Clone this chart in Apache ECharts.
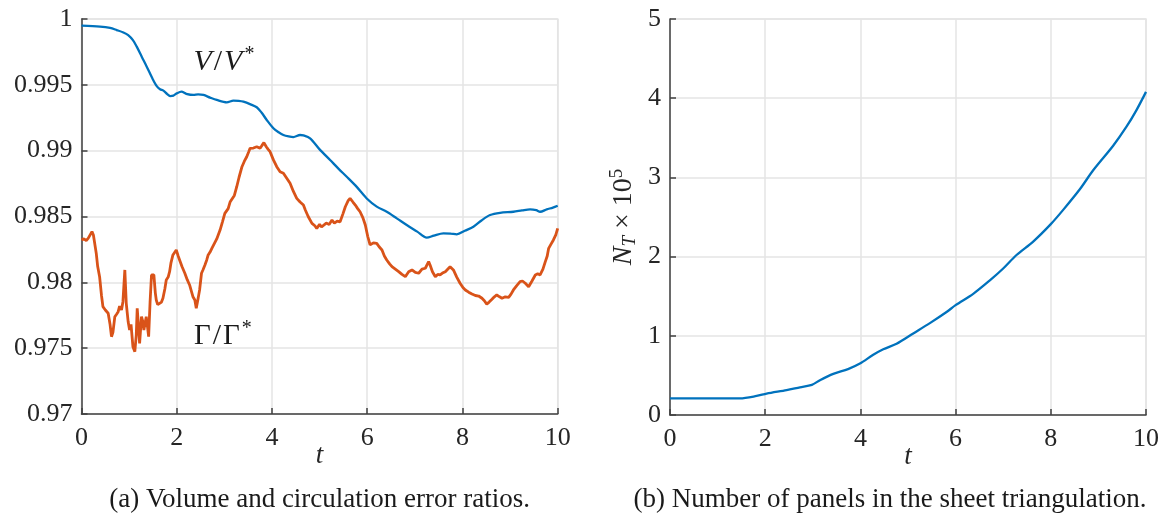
<!DOCTYPE html>
<html>
<head>
<meta charset="utf-8">
<script src="https://cdn.jsdelivr.net/npm/echarts@6/dist/echarts.min.js"></script>
<style>
  html, body { margin: 0; padding: 0; background: #ffffff; }
  #chart { width: 1173px; height: 525px; }
</style>
</head>
<body>
<div id="chart"></div>
<script>
// Volume ratio V/V* over time
const tVolume = [0, 0.39, 0.6, 0.74, 0.88, 0.98, 1.08, 1.16, 1.27, 1.37, 1.48, 1.58, 1.65, 1.72, 1.80, 1.86, 1.93, 2.00, 2.10, 2.20, 2.35, 2.45, 2.56, 2.70, 2.84, 3.05, 3.19, 3.30, 3.40, 3.55, 3.68, 3.78, 3.89, 4.03, 4.14, 4.24, 4.35, 4.45, 4.59, 4.66, 4.80, 5.00, 5.22, 5.40, 5.57, 5.78, 5.99, 6.20, 6.41, 6.62, 6.83, 7.05, 7.25, 7.40, 7.60, 7.75, 7.88, 8.05, 8.23, 8.40, 8.58, 8.79, 9.07, 9.25, 9.42, 9.55, 9.63, 9.77, 9.90, 10];
const volumeRatio = [0.99949, 0.99942, 0.99932, 0.99916, 0.99898, 0.99878, 0.99840, 0.99790, 0.99710, 0.99638, 0.99555, 0.99490, 0.99466, 0.99456, 0.99430, 0.99415, 0.99418, 0.99435, 0.99448, 0.99432, 0.99423, 0.99428, 0.99423, 0.99403, 0.99385, 0.99367, 0.99380, 0.99378, 0.99372, 0.99352, 0.99330, 0.99290, 0.99233, 0.99170, 0.99140, 0.99119, 0.99108, 0.99103, 0.99119, 0.99116, 0.99094, 0.99010, 0.98929, 0.98862, 0.98802, 0.98725, 0.98637, 0.98575, 0.98536, 0.98486, 0.98435, 0.98385, 0.98339, 0.98355, 0.98372, 0.98370, 0.98364, 0.98392, 0.98422, 0.98470, 0.98511, 0.98528, 0.98536, 0.98546, 0.98554, 0.98548, 0.98536, 0.98554, 0.98568, 0.98582];

// Circulation ratio Γ/Γ* over time
const tCirc = [0.00, 0.05, 0.10, 0.14, 0.18, 0.22, 0.25, 0.29, 0.31, 0.34, 0.38, 0.42, 0.45, 0.50, 0.56, 0.60, 0.63, 0.66, 0.70, 0.74, 0.77, 0.80, 0.84, 0.87, 0.91, 0.94, 0.98, 1.01, 1.04, 1.08, 1.12, 1.15, 1.17, 1.20, 1.22, 1.26, 1.29, 1.31, 1.34, 1.36, 1.39, 1.41, 1.44, 1.47, 1.52, 1.55, 1.57, 1.60, 1.64, 1.68, 1.71, 1.75, 1.78, 1.82, 1.85, 1.88, 1.92, 1.96, 1.99, 2.03, 2.06, 2.11, 2.17, 2.22, 2.27, 2.31, 2.34, 2.38, 2.41, 2.45, 2.48, 2.52, 2.55, 2.59, 2.63, 2.66, 2.70, 2.74, 2.77, 2.84, 2.91, 2.96, 3.01, 3.08, 3.12, 3.16, 3.21, 3.26, 3.31, 3.37, 3.42, 3.47, 3.51, 3.54, 3.58, 3.61, 3.65, 3.68, 3.72, 3.75, 3.79, 3.83, 3.88, 3.92, 3.96, 4.03, 4.10, 4.17, 4.24, 4.31, 4.38, 4.45, 4.52, 4.59, 4.66, 4.70, 4.76, 4.80, 4.84, 4.90, 4.94, 5.00, 5.04, 5.08, 5.14, 5.20, 5.26, 5.31, 5.37, 5.43, 5.49, 5.54, 5.60, 5.64, 5.70, 5.75, 5.80, 5.85, 5.91, 5.96, 6.01, 6.06, 6.13, 6.20, 6.25, 6.31, 6.36, 6.41, 6.47, 6.52, 6.59, 6.66, 6.73, 6.80, 6.87, 6.94, 7.01, 7.08, 7.15, 7.22, 7.29, 7.32, 7.37, 7.43, 7.48, 7.53, 7.58, 7.64, 7.69, 7.74, 7.81, 7.88, 7.95, 8.01, 8.06, 8.13, 8.20, 8.27, 8.34, 8.41, 8.46, 8.51, 8.56, 8.62, 8.67, 8.72, 8.78, 8.83, 8.90, 8.97, 9.02, 9.07, 9.14, 9.21, 9.26, 9.32, 9.39, 9.46, 9.53, 9.58, 9.63, 9.69, 9.74, 9.78, 9.81, 9.86, 9.91, 9.96, 10.00];
const circRatio = [0.98322, 0.98330, 0.98318, 0.98334, 0.98340, 0.98385, 0.98360, 0.98367, 0.98220, 0.98120, 0.98043, 0.97900, 0.97815, 0.97790, 0.97765, 0.97680, 0.97587, 0.97620, 0.97739, 0.97760, 0.97777, 0.97820, 0.97790, 0.97853, 0.98094, 0.97841, 0.97700, 0.97638, 0.97680, 0.97511, 0.97473, 0.97600, 0.97803, 0.97650, 0.97537, 0.97739, 0.97700, 0.97638, 0.97700, 0.97739, 0.97650, 0.97587, 0.97850, 0.98056, 0.98056, 0.97920, 0.97866, 0.97830, 0.97815, 0.97850, 0.97879, 0.97950, 0.98018, 0.98040, 0.98081, 0.98150, 0.98208, 0.98220, 0.98246, 0.98200, 0.98170, 0.98120, 0.98069, 0.98020, 0.97980, 0.97930, 0.97891, 0.97866, 0.97803, 0.97880, 0.97942, 0.98069, 0.98094, 0.98130, 0.98170, 0.98208, 0.98230, 0.98260, 0.98271, 0.98330, 0.98397, 0.98460, 0.98524, 0.98560, 0.98610, 0.98600, 0.98660, 0.98726, 0.98800, 0.98878, 0.98920, 0.98954, 0.98990, 0.99018, 0.99030, 0.99020, 0.99035, 0.99030, 0.99040, 0.99018, 0.99040, 0.99061, 0.99030, 0.99010, 0.98992, 0.98930, 0.98878, 0.98840, 0.98828, 0.98790, 0.98752, 0.98690, 0.98638, 0.98610, 0.98587, 0.98549, 0.98500, 0.98486, 0.98448, 0.98430, 0.98410, 0.98440, 0.98420, 0.98435, 0.98450, 0.98440, 0.98473, 0.98450, 0.98465, 0.98460, 0.98520, 0.98574, 0.98620, 0.98638, 0.98610, 0.98587, 0.98560, 0.98536, 0.98490, 0.98435, 0.98350, 0.98284, 0.98300, 0.98296, 0.98270, 0.98246, 0.98200, 0.98170, 0.98140, 0.98119, 0.98100, 0.98081, 0.98060, 0.98043, 0.98080, 0.98094, 0.98075, 0.98069, 0.98100, 0.98107, 0.98157, 0.98132, 0.98080, 0.98043, 0.98060, 0.98056, 0.98070, 0.98081, 0.98100, 0.98119, 0.98094, 0.98040, 0.97993, 0.97960, 0.97942, 0.97925, 0.97911, 0.97900, 0.97896, 0.97879, 0.97860, 0.97835, 0.97850, 0.97871, 0.97890, 0.97904, 0.97890, 0.97879, 0.97890, 0.97886, 0.97910, 0.97942, 0.97975, 0.98005, 0.98010, 0.97993, 0.97967, 0.98010, 0.98056, 0.98065, 0.98056, 0.98100, 0.98157, 0.98200, 0.98258, 0.98290, 0.98322, 0.98360, 0.98410];

// Number of panels N_T (in units of 1e5)
const tPanels = [0, 0.5, 1.0, 1.47, 1.82, 2.03, 2.45, 2.73, 2.98, 3.15, 3.43, 3.74, 3.99, 4.27, 4.48, 4.76, 5.11, 5.46, 5.81, 6.0, 6.37, 6.72, 7.0, 7.28, 7.63, 8.0, 8.26, 8.61, 8.89, 9.31, 9.59, 9.8, 10];
const panelCount = [0.21, 0.21, 0.21, 0.21, 0.24, 0.27, 0.315, 0.35, 0.38, 0.44, 0.52, 0.58, 0.65, 0.76, 0.83, 0.90, 1.03, 1.16, 1.30, 1.387, 1.53, 1.70, 1.85, 2.02, 2.19, 2.41, 2.59, 2.85, 3.09, 3.40, 3.64, 3.85, 4.08];

// Axis ticks
const tTicks = [0, 2, 4, 6, 8, 10];
const ratioTicks = ['0.97', '0.975', '0.98', '0.985', '0.99', '0.995', '1'];
const panelTicks = ['0', '1', '2', '3', '4', '5'];

// Texts
const captionA = '(a) Volume and circulation error ratios.';
const captionB = '(b) Number of panels in the sheet triangulation.';
const volumeLabel = '{i|V}{s|/}{i|V}{sup|*}';
const circLabel = '{n|Γ}{s|/}{n|Γ}{sup|*}';
const volumeLabelAt = [2.99, 0.99673];
const circLabelAt = [2.97, 0.97592];

const serif = '"Liberation Serif", "Times New Roman", serif';
const axisDark = '#404040';
const gridLight = '#e4e4e4';
const blue = '#0072BD';
const orange = '#D95319';

const zip = (ts, vs) => ts.map((t, i) => [t, vs[i]]);

function xAxisFor(gridIndex) {
  return {
    type: 'value', gridIndex, min: tTicks[0], max: tTicks[tTicks.length - 1], interval: tTicks[1] - tTicks[0],
    name: 't', nameLocation: 'middle', nameGap: 28, nameMoveOverlap: false,
    nameTextStyle: { fontFamily: serif, fontStyle: 'italic', fontSize: 27, color: '#262626' },
    axisLine: { show: true, onZero: false, lineStyle: { color: axisDark, width: 1.5 } },
    axisTick: { show: true, inside: true, length: 6, lineStyle: { color: axisDark, width: 1.5 } },
    axisLabel: { fontFamily: serif, fontSize: 26, color: '#262626', margin: 11 },
    splitLine: { show: true, lineStyle: { color: gridLight, width: 1.5 } }
  };
}

const yLabelStyle = { fontFamily: serif, fontSize: 26, color: '#262626', margin: 9 };

const option = {
  backgroundColor: '#ffffff',
  animation: false,
  grid: [
    { left: 81.5, right: 615.3, top: 19, bottom: 111, show: true, borderColor: gridLight, borderWidth: 1.5 },
    { left: 670, right: 27, top: 19, bottom: 110, show: true, borderColor: gridLight, borderWidth: 1.5 }
  ],
  xAxis: [xAxisFor(0), xAxisFor(1)],
  yAxis: [
    {
      type: 'value', gridIndex: 0, min: Number(ratioTicks[0]), max: Number(ratioTicks[ratioTicks.length - 1]), interval: 0.005,
      axisLine: { show: true, lineStyle: { color: axisDark, width: 1.5 } },
      axisTick: { show: true, inside: true, length: 6, lineStyle: { color: axisDark, width: 1.5 } },
      axisLabel: Object.assign({}, yLabelStyle, {
        formatter: v => ratioTicks[Math.round((v - Number(ratioTicks[0])) / 0.005)]
      }),
      splitLine: { show: true, lineStyle: { color: gridLight, width: 1.5 } }
    },
    {
      type: 'value', gridIndex: 1, min: 0, max: 5, interval: 1,
      name: '{i|N}{sub|T}{n| × 10}{sup|5}', nameLocation: 'middle', nameGap: 30, nameRotate: 90,
      nameTextStyle: {
        rich: {
          i: { fontFamily: serif, fontStyle: 'italic', fontSize: 28, color: '#262626', lineHeight: 32, verticalAlign: 'middle' },
          sub: { fontFamily: serif, fontStyle: 'italic', fontSize: 19, color: '#262626', lineHeight: 32, verticalAlign: 'bottom', padding: [0, 0, 1, 0] },
          n: { fontFamily: serif, fontSize: 28, color: '#262626', lineHeight: 32, verticalAlign: 'middle' },
          sup: { fontFamily: serif, fontSize: 19, color: '#262626', lineHeight: 32, verticalAlign: 'top' }
        }
      },
      axisLine: { show: true, lineStyle: { color: axisDark, width: 1.5 } },
      axisTick: { show: true, inside: true, length: 6, lineStyle: { color: axisDark, width: 1.5 } },
      axisLabel: Object.assign({}, yLabelStyle, { formatter: v => panelTicks[Math.round(v)] }),
      splitLine: { show: true, lineStyle: { color: gridLight, width: 1.5 } }
    }
  ],
  series: [
    {
      type: 'line', xAxisIndex: 0, yAxisIndex: 0, data: zip(tCirc, circRatio),
      showSymbol: false, lineStyle: { color: orange, width: 2.8 }, z: 3
    },
    {
      type: 'line', xAxisIndex: 0, yAxisIndex: 0, data: zip(tVolume, volumeRatio),
      showSymbol: false, smooth: 0.3, lineStyle: { color: blue, width: 2.3 }, z: 4
    },
    {
      type: 'line', xAxisIndex: 1, yAxisIndex: 1, data: zip(tPanels, panelCount),
      showSymbol: false, smooth: 0.3, lineStyle: { color: blue, width: 2.3 }, z: 4
    }
  ]
};

const chart = echarts.init(document.getElementById('chart'), null, { renderer: 'canvas' });
chart.setOption(option);

// Curve labels and sub-figure captions
const richLabel = {
  i: { fontFamily: serif, fontStyle: 'italic', fontSize: 30, fill: '#1a1a1a', lineHeight: 34, verticalAlign: 'middle' },
  n: { fontFamily: serif, fontSize: 29, fill: '#1a1a1a', lineHeight: 34, verticalAlign: 'middle' },
  s: { fontFamily: serif, fontSize: 30, fill: '#1a1a1a', lineHeight: 34, verticalAlign: 'middle', padding: [0, 2, 0, 2] },
  sup: { fontFamily: serif, fontSize: 20, fill: '#1a1a1a', lineHeight: 34, verticalAlign: 'top', padding: [0, 0, 0, 2] }
};
const pV = chart.convertToPixel({ gridIndex: 0 }, volumeLabelAt);
const pG = chart.convertToPixel({ gridIndex: 0 }, circLabelAt);
const gridA = chart.getModel().getComponent('grid', 0).coordinateSystem.getRect();
const gridB = chart.getModel().getComponent('grid', 1).coordinateSystem.getRect();

chart.setOption({
  graphic: [
    { type: 'text', x: pV[0], y: pV[1], style: { text: volumeLabel, rich: richLabel, align: 'center', verticalAlign: 'middle' }, z: 10 },
    { type: 'text', x: pG[0], y: pG[1], style: { text: circLabel, rich: richLabel, align: 'center', verticalAlign: 'middle' }, z: 10 },
    { type: 'text', x: gridA.x + gridA.width / 2, y: 500, style: { text: captionA, font: '27px ' + serif, fill: '#1a1a1a', align: 'center', verticalAlign: 'middle' } },
    { type: 'text', x: gridB.x + gridB.width / 2 - 18, y: 500, style: { text: captionB, font: '27px ' + serif, fill: '#1a1a1a', align: 'center', verticalAlign: 'middle' } }
  ]
});
</script>
</body>
</html>
